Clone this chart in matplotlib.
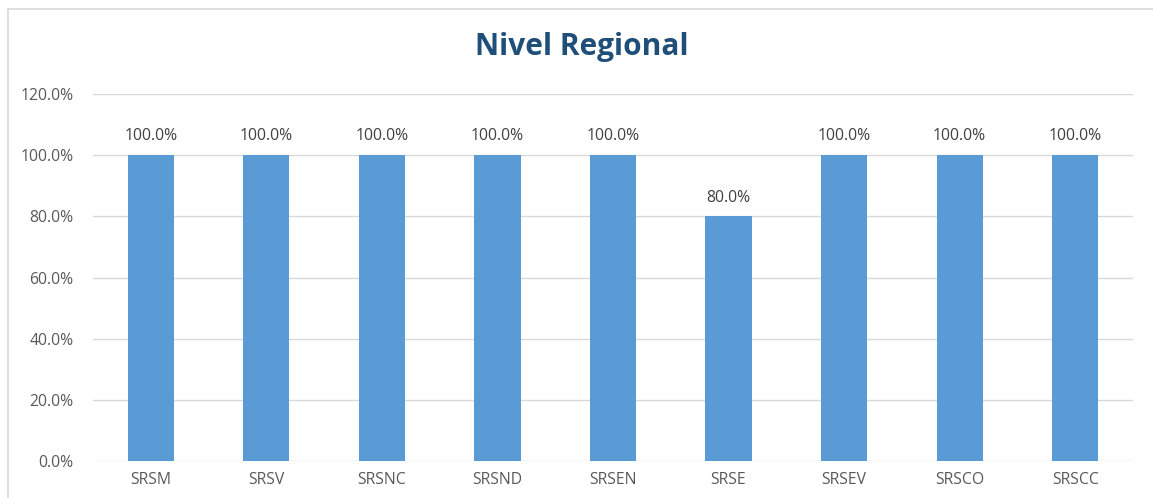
import matplotlib.pyplot as plt
from matplotlib.patches import Rectangle

categories = ['SRSM', 'SRSV', 'SRSNC', 'SRSND', 'SRSEN', 'SRSE', 'SRSEV', 'SRSCO', 'SRSCC']
values = [1.0, 1.0, 1.0, 1.0, 1.0, 0.8, 1.0, 1.0, 1.0]
yticks = [0, 0.2, 0.4, 0.6, 0.8, 1.0, 1.2]

plt.rcParams['font.family'] = ['Open Sans', 'DejaVu Sans']

W, H = 1153, 498
fig = plt.figure(figsize=(W / 100, H / 100), dpi=100)
ax = fig.add_axes([93 / W, 1 - 461 / H, (1133 - 93) / W, (461 - 94) / H])

# outer chart border (cut off on the right and bottom in the original)
fig.patches.append(Rectangle((8 / W, -0.1), 1.2, 1 - 9 / H + 0.1, transform=fig.transFigure,
                             fill=False, edgecolor='#d9d9d9', linewidth=1.2))

x = range(len(categories))
bars = ax.bar(x, values, width=0.4, color='#5b9bd5', zorder=3)
for xi, v in zip(x, values):
    ax.text(xi, v + 0.035, f'{v * 100:.1f}%', ha='center', va='bottom',
            fontsize=11.3, color='#404040')

ax.set_xlim(-0.5, len(categories) - 0.5)
ax.set_ylim(0, 1.2)
ax.set_yticks(yticks)
ax.set_yticklabels([f'{t * 100:.1f}%' for t in yticks])
ax.set_xticks(list(x))
ax.set_xticklabels(categories)
ax.tick_params(axis='both', length=0, labelsize=11.3, labelcolor='#595959')
ax.tick_params(axis='y', pad=14)
ax.tick_params(axis='x', pad=8)
ax.grid(axis='y', color='#d9d9d9', linewidth=1, zorder=0)
for s in ax.spines.values():
    s.set_visible(False)

fig.text(582 / W, 1 - 47 / H, 'Nivel Regional', ha='center', va='center',
         fontsize=21.5, fontweight='bold', color='#1f4e79')

fig.savefig('out.png', dpi=100)
